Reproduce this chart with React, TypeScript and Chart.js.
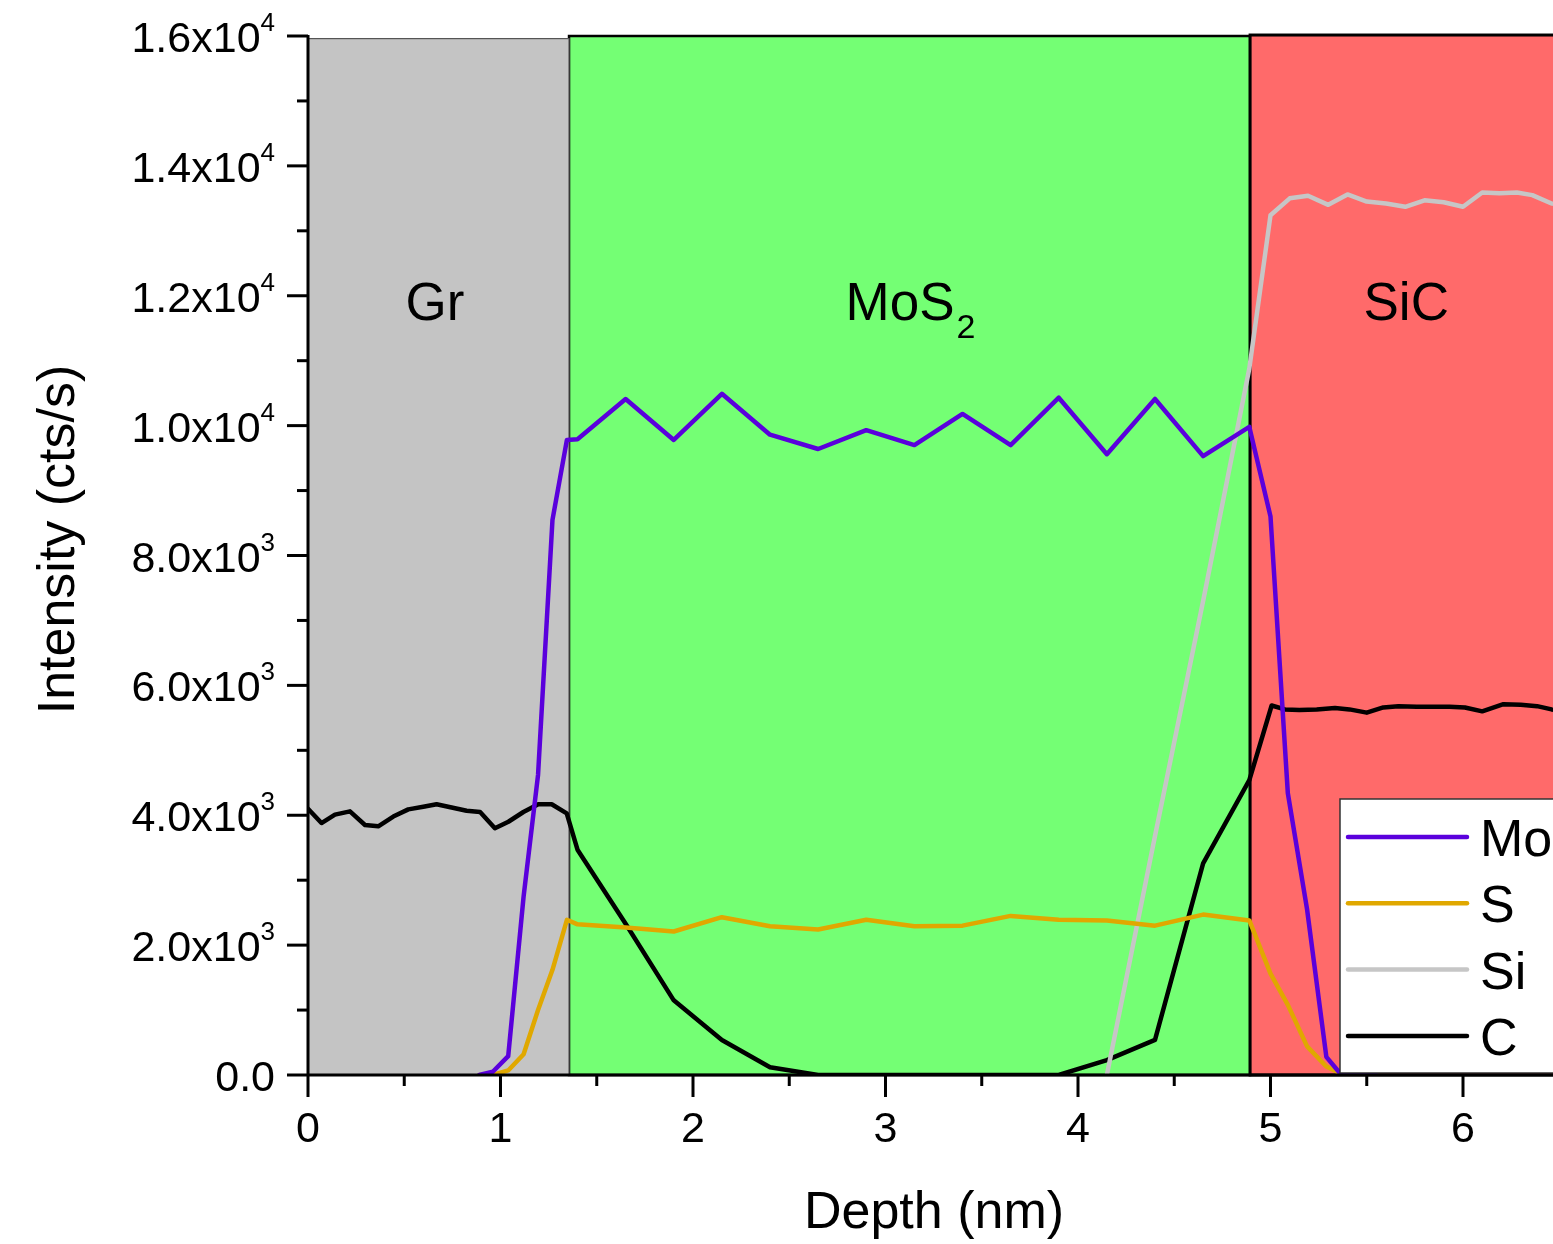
import React, { useEffect, useRef } from 'react';
import { Chart, registerables } from 'chart.js';

Chart.register(...registerables);

const FONT = '"Liberation Sans", Arial, Helvetica, sans-serif';

// Depth grid (nm) shared by the Mo and S profiles
const depthMoS = [0.89, 0.96, 1.04, 1.12, 1.195, 1.27, 1.345, 1.40, 1.65, 1.90, 2.15, 2.40, 2.65, 2.90, 3.15, 3.40, 3.65, 3.90, 4.15, 4.40, 4.65, 4.89, 5.00, 5.09, 5.19, 5.29, 5.36, 5.45, 5.55];
const moIntensity = [0, 50, 290, 2750, 4620, 8550, 9780, 9790, 10410, 9780, 10490, 9860, 9640, 9930, 9700, 10180, 9700, 10430, 9560, 10410, 9530, 9980, 8600, 4340, 2550, 280, 30, 0, 0];
const sIntensity = [0, 0, 70, 320, 1000, 1620, 2390, 2320, 2270, 2210, 2430, 2290, 2240, 2390, 2290, 2300, 2450, 2390, 2380, 2300, 2470, 2380, 1560, 1080, 440, 130, 30, 0, 0];

// Si profile
const depthSi = [4.15, 4.40, 4.65, 4.89, 5.00, 5.10, 5.195, 5.30, 5.40, 5.50, 5.60, 5.70, 5.80, 5.90, 6.00, 6.10, 6.19, 6.28, 6.36, 6.46, 6.55];
const siIntensity = [0, 3680, 7300, 10880, 13240, 13500, 13540, 13400, 13560, 13450, 13420, 13370, 13470, 13440, 13370, 13590, 13580, 13590, 13550, 13420, 13400];

// C profile
const depthC = [0, 0.07, 0.14, 0.218, 0.296, 0.365, 0.443, 0.521, 0.599, 0.668, 0.746, 0.824, 0.894, 0.971, 1.041, 1.119, 1.196, 1.266, 1.344, 1.40, 1.65, 1.90, 2.15, 2.40, 2.65, 2.90, 3.15, 3.40, 3.65, 3.90, 4.15, 4.40, 4.65, 4.89, 5.006, 5.075, 5.15, 5.24, 5.335, 5.41, 5.50, 5.586, 5.664, 5.76, 5.846, 5.93, 6.01, 6.10, 6.21, 6.30, 6.385, 6.46, 6.55];
const cIntensity = [4100, 3880, 4010, 4060, 3850, 3830, 3980, 4090, 4130, 4170, 4120, 4070, 4050, 3800, 3900, 4050, 4170, 4170, 4030, 3470, 2330, 1150, 540, 120, 0, 0, 0, 0, 0, 0, 230, 540, 3260, 4540, 5690, 5630, 5620, 5630, 5650, 5630, 5580, 5660, 5680, 5670, 5670, 5670, 5660, 5600, 5710, 5700, 5680, 5630, 5600];

const seriesLabels = ['Mo', 'S', 'Si', 'C'];
const seriesColors = ['#5a00dc', '#e0a800', '#c6c6c6', '#000000'];

// Layer regions along the depth axis
const layerNames = ['Gr', 'MoS', 'SiC'];
const layerSub = ['', '2', ''];
const layerFrom = [0, 1.356, 4.894];
const layerTo = [1.356, 4.894, 7];
const layerTop = [15960, 16000, 16015];
const layerFill = ['#c4c4c4', '#74ff74', '#ff6a6a'];
const layerBorder = ['#555555', '#000000', '#000000'];
const layerBorderWidth = [1.2, 2.5, 3];
const layerDrawOrder = [1, 2, 0];
const layerLabelX = [0.66, 3.13, 5.705];
const layerLabelY = 11630;

// Axis ticks
const xMin = 0;
const xMax = 7;
const xTickLabels = ['0', '1', '2', '3', '4', '5', '6', '7'];
const yMin = 0;
const yMax = 16000;
const yTickValues = [0, 2000, 4000, 6000, 8000, 10000, 12000, 14000, 16000];
const yTickMantissa = ['0.0', '2.0x10', '4.0x10', '6.0x10', '8.0x10', '1.0x10', '1.2x10', '1.4x10', '1.6x10'];
const yTickExponent = ['', '3', '3', '3', '3', '4', '4', '4', '4'];

const xTitle = 'Depth (nm)';
const yTitle = 'Intensity (cts/s)';

const CANVAS_W = 1700;
const CANVAS_H = 1244;

const profilePlugin = {
  id: 'profileDecor',
  beforeDatasetsDraw(chart: any) {
    const { ctx, scales } = chart;
    const x = scales.x;
    const y = scales.y;
    ctx.save();
    layerDrawOrder.forEach((i) => {
      const l = x.getPixelForValue(layerFrom[i]);
      const r = x.getPixelForValue(layerTo[i]);
      const t = y.getPixelForValue(layerTop[i]);
      const b = y.getPixelForValue(0);
      ctx.fillStyle = layerFill[i];
      ctx.fillRect(l, t, r - l, b - t);
      ctx.strokeStyle = layerBorder[i];
      ctx.lineWidth = layerBorderWidth[i];
      ctx.strokeRect(l, t, r - l, b - t);
    });
    // layer names
    ctx.fillStyle = '#000';
    ctx.textBaseline = 'alphabetic';
    layerNames.forEach((name, i) => {
      const cx = x.getPixelForValue(layerLabelX[i]);
      const by = y.getPixelForValue(layerLabelY);
      ctx.font = `53px ${FONT}`;
      const w = ctx.measureText(name).width;
      let sw = 0;
      if (layerSub[i]) {
        ctx.font = `34px ${FONT}`;
        sw = ctx.measureText(layerSub[i]).width + 2;
      }
      const left = cx - (w + sw) / 2;
      ctx.font = `53px ${FONT}`;
      ctx.textAlign = 'left';
      ctx.fillText(name, left, by);
      if (layerSub[i]) {
        ctx.font = `34px ${FONT}`;
        ctx.fillText(layerSub[i], left + w + 2, by + 18);
      }
    });
    ctx.restore();
  },
  afterDatasetsDraw(chart: any) {
    const { ctx, scales, chartArea } = chart;
    const x = scales.x;
    const y = scales.y;
    const left = chartArea.left;
    const bottom = chartArea.bottom;
    ctx.save();
    ctx.strokeStyle = '#000';
    ctx.fillStyle = '#000';
    ctx.lineWidth = 3;
    ctx.lineCap = 'butt';

    // legend
    const lgLeft = left + 1032;
    const lgTop = chartArea.top + 763;
    const lgW = 400;
    const lgH = 274;
    ctx.fillStyle = '#ffffff';
    ctx.fillRect(lgLeft, lgTop, lgW, lgH);
    ctx.strokeStyle = '#333';
    ctx.lineWidth = 1.5;
    ctx.strokeRect(lgLeft, lgTop, lgW, lgH);
    chart.data.datasets.forEach((ds: any, i: number) => {
      const ly = lgTop + 38 + i * 66.3;
      ctx.strokeStyle = ds.borderColor;
      ctx.lineWidth = 4.5;
      ctx.lineCap = 'round';
      ctx.beginPath();
      ctx.moveTo(lgLeft + 8, ly);
      ctx.lineTo(lgLeft + 127, ly);
      ctx.stroke();
      ctx.fillStyle = '#000';
      ctx.font = `52px ${FONT}`;
      ctx.textAlign = 'left';
      ctx.textBaseline = 'alphabetic';
      ctx.fillText(ds.label, lgLeft + 140, ly + 19);
    });

    ctx.strokeStyle = '#000';
    ctx.fillStyle = '#000';
    ctx.lineCap = 'butt';
    ctx.lineWidth = 3;
    // axis lines
    ctx.beginPath();
    ctx.moveTo(left, chartArea.top - 1);
    ctx.lineTo(left, bottom);
    ctx.moveTo(left, bottom);
    ctx.lineTo(chartArea.right, bottom);
    ctx.stroke();

    // y ticks
    for (let v = yMin; v <= yMax; v += 1000) {
      const py = y.getPixelForValue(v);
      const len = v % 2000 === 0 ? 21 : 11;
      ctx.beginPath();
      ctx.moveTo(left - len, py);
      ctx.lineTo(left, py);
      ctx.stroke();
    }
    // x ticks
    for (let v = xMin; v <= xMax; v += 0.5) {
      const px = x.getPixelForValue(v);
      const len = Number.isInteger(v) ? 22 : 11;
      ctx.beginPath();
      ctx.moveTo(px, bottom);
      ctx.lineTo(px, bottom + len);
      ctx.stroke();
    }

    // x tick labels
    ctx.font = `43px ${FONT}`;
    ctx.textAlign = 'center';
    ctx.textBaseline = 'alphabetic';
    xTickLabels.forEach((lab, i) => {
      ctx.fillText(lab, x.getPixelForValue(i), bottom + 67);
    });

    // y tick labels with exponents
    const labelRight = left - 33;
    yTickValues.forEach((v, i) => {
      const py = y.getPixelForValue(v);
      const exp = yTickExponent[i];
      ctx.font = `26px ${FONT}`;
      const ew = exp ? ctx.measureText(exp).width : 0;
      ctx.font = `43px ${FONT}`;
      ctx.textAlign = 'right';
      ctx.fillText(yTickMantissa[i], labelRight - ew, py + 16);
      if (exp) {
        ctx.font = `26px ${FONT}`;
        ctx.textAlign = 'left';
        ctx.fillText(exp, labelRight - ew, py - 5);
      }
    });

    // axis titles
    ctx.font = `52px ${FONT}`;
    ctx.textAlign = 'center';
    ctx.textBaseline = 'alphabetic';
    ctx.fillText(xTitle, 934, bottom + 153);
    ctx.translate(74, (chartArea.top + bottom) / 2 - 16);
    ctx.rotate(-Math.PI / 2);
    ctx.fillText(yTitle, 0, 0);
    ctx.restore();
  },
};

function makeSeries(xs: number[], ys: number[]) {
  return xs.map((v, i) => ({ x: v, y: ys[i] }));
}

export default function App() {
  const canvasRef = useRef<HTMLCanvasElement | null>(null);

  useEffect(() => {
    const canvas = canvasRef.current;
    if (!canvas) return;
    const seriesData = [
      makeSeries(depthMoS, moIntensity),
      makeSeries(depthMoS, sIntensity),
      makeSeries(depthSi, siIntensity),
      makeSeries(depthC, cIntensity),
    ];
    const chart = new Chart(canvas, {
      type: 'line',
      data: {
        datasets: seriesData.map((d, i) => ({
          label: seriesLabels[i],
          data: d,
          borderColor: seriesColors[i],
          backgroundColor: seriesColors[i],
          borderWidth: 4.5,
          pointRadius: 0,
          tension: 0,
          fill: false,
          borderJoinStyle: 'round' as const,
          borderCapStyle: 'round' as const,
        })),
      },
      options: {
        responsive: false,
        animation: false,
        devicePixelRatio: 1,
        layout: { padding: { top: 36, left: 0, right: CANVAS_W - 1655.5, bottom: 0 } },
        scales: {
          x: {
            type: 'linear',
            min: xMin,
            max: xMax,
            grid: { display: false },
            border: { display: false },
            ticks: { display: false },
            afterFit: (s: any) => { s.height = CANVAS_H - 1075; },
          },
          y: {
            type: 'linear',
            min: yMin,
            max: yMax,
            grid: { display: false },
            border: { display: false },
            ticks: { display: false },
            afterFit: (s: any) => { s.width = 308; },
          },
        },
        plugins: {
          legend: { display: false },
          tooltip: { enabled: false },
        },
      },
      plugins: [profilePlugin],
    });
    return () => chart.destroy();
  }, []);

  return (
    <div style={{ position: 'fixed', left: 0, top: 0, width: 1553, height: 1244, overflow: 'hidden', background: '#fff' }}>
      <canvas ref={canvasRef} width={CANVAS_W} height={CANVAS_H} style={{ display: 'block', width: CANVAS_W, height: CANVAS_H }} />
    </div>
  );
}
